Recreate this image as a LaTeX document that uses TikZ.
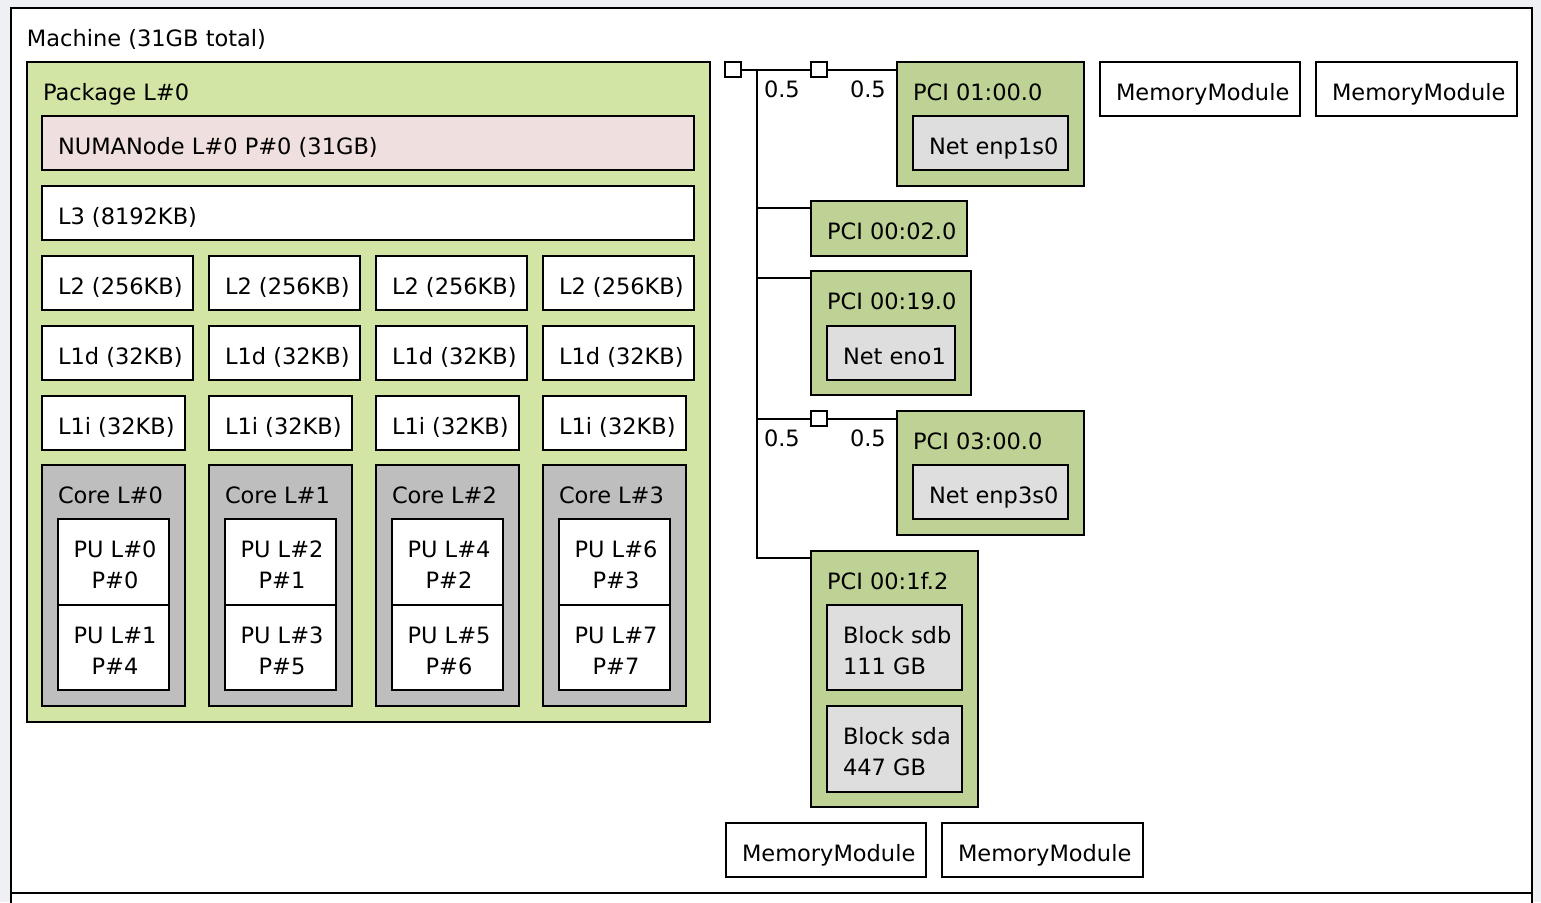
\documentclass[tikz,border=0pt]{standalone}
\usepackage{fontspec}
\setmainfont{DejaVu Sans}
\definecolor{bgc}{RGB}{239,240,244}
\definecolor{pkgc}{RGB}{210,229,164}
\definecolor{numac}{RGB}{239,223,222}
\definecolor{corec}{RGB}{190,190,190}
\definecolor{pcic}{RGB}{190,210,149}
\definecolor{osdc}{RGB}{222,222,222}
\tikzset{
  boxst/.style={draw=black, line width=2pt, inner sep=0pt, outer sep=0pt, anchor=north west},
  lab/.style={inner sep=0pt, outer sep=0pt, font=\fontsize{22.5}{27}\selectfont},
  wire/.style={draw=black, line width=2pt}
}
\newcommand\mybox[6]{\node[boxst, fill=#6, minimum width=#4pt, minimum height=#5pt] (#1) at (#2,#3) {};}
\newcommand\mylab[2]{\node[lab, anchor=base west] (#1-t) at ([xshift=16pt,yshift=-38pt]#1.north west) {#2};}
\newcommand\mylabb[2]{\node[lab, anchor=base west] (#1-u) at ([xshift=16pt,yshift=-69pt]#1.north west) {#2};}
\newcommand\pulab[3]{%
  \node[lab, anchor=base] (#1-t) at ([xshift=1.5pt,yshift=-38pt]#1.north) {#2};
  \node[lab, anchor=base] (#1-u) at ([xshift=1.5pt,yshift=-69pt]#1.north) {#3};}
\begin{document}
\begin{tikzpicture}[x=1pt,y=-1pt]
\clip (0,0) rectangle (1541,902);
\fill[bgc] (0,0) rectangle (1541,902);
% machine
\mybox{machine}{11}{8}{1521}{910}{white}
\mylab{machine}{Machine (31GB total)}
\coordinate (sepL) at (11,893);
\coordinate (sepR) at (1532,893);
\draw[wire] (sepL) -- (sepR);
% package
\mybox{pkg}{27}{62}{683}{660}{pkgc}
\mylab{pkg}{Package L\#0}
\mybox{numa}{42}{116}{652}{54}{numac}
\mylab{numa}{NUMANode L\#0 P\#0 (31GB)}
\mybox{l3}{42}{186}{652}{54}{white}
\mylab{l3}{L3 (8192KB)}
\foreach \i/\xx in {0/42,1/209,2/376,3/543}{
  \mybox{l2\i}{\xx}{256}{151}{54}{white}
  \mylab{l2\i}{L2 (256KB)}
  \mybox{l1d\i}{\xx}{326}{151}{54}{white}
  \mylab{l1d\i}{L1d (32KB)}
  \mybox{l1i\i}{\xx}{396}{143}{54}{white}
  \mylab{l1i\i}{L1i (32KB)}
  \mybox{core\i}{\xx}{465}{143}{241}{corec}
  \mylab{core\i}{Core L\#\i}
}
\foreach \i/\xx/\la/\pa/\lb/\pb in {0/58/0/0/1/4,1/225/2/1/3/5,2/392/4/2/5/6,3/559/6/3/7/7}{
  \mybox{pua\i}{\xx}{519}{111}{86}{white}
  \pulab{pua\i}{PU L\#\la}{P\#\pa}
  \mybox{pub\i}{\xx}{605}{111}{85}{white}
  \pulab{pub\i}{PU L\#\lb}{P\#\pb}
}
% I/O tree
\mybox{hb}{725}{62}{16}{15}{white}
\mybox{sq2}{811}{62}{16}{15}{white}
\mybox{pci1}{897}{62}{187}{124}{pcic}
\mylab{pci1}{PCI 01:00.0}
\mybox{net1}{913}{116}{155}{54}{osdc}
\mylab{net1}{Net enp1s0}
\mybox{pci2}{811}{201}{156}{55}{pcic}
\mylab{pci2}{PCI 00:02.0}
\mybox{pci3}{811}{271}{160}{124}{pcic}
\mylab{pci3}{PCI 00:19.0}
\mybox{net2}{827}{326}{128}{54}{osdc}
\mylab{net2}{Net eno1}
\mybox{sq3}{811}{411}{16}{15}{white}
\mybox{pci4}{897}{411}{187}{124}{pcic}
\mylab{pci4}{PCI 03:00.0}
\mybox{net3}{913}{465}{155}{54}{osdc}
\mylab{net3}{Net enp3s0}
\mybox{pci5}{811}{551}{167}{256}{pcic}
\mylab{pci5}{PCI 00:1f.2}
\mybox{blk1}{827}{605}{135}{85}{osdc}
\mylab{blk1}{Block sdb}
\mylabb{blk1}{111 GB}
\mybox{blk2}{827}{706}{135}{86}{osdc}
\mylab{blk2}{Block sda}
\mylabb{blk2}{447 GB}
% connectors
\coordinate (trunkT) at (757,69.5);
\coordinate (trunkB) at ([yshift=-7pt]pci5.north west);
\draw[wire] (hb.east) -- (sq2.west);
\draw[wire] (sq2.east) -- (sq2.east -| pci1.west);
\draw[wire] (trunkT) -- (trunkT |- trunkB) -- (trunkB);
\coordinate (br2) at ([yshift=-7pt]pci2.north west);
\draw[wire] (trunkT |- br2) -- (br2);
\coordinate (br3) at ([yshift=-7pt]pci3.north west);
\draw[wire] (trunkT |- br3) -- (br3);
\draw[wire] (trunkT |- sq3.west) -- (sq3.west);
\draw[wire] (sq3.east) -- (sq3.east -| pci4.west);
% link speed labels
\node[lab, anchor=base west] (sp1) at (764,97) {0.5};
\node[lab, anchor=base west] (sp2) at (850,97) {0.5};
\node[lab, anchor=base west] (sp3) at (764,446) {0.5};
\node[lab, anchor=base west] (sp4) at (850,446) {0.5};
% memory modules
\mybox{mem1}{1100}{62}{200}{54}{white}
\mylab{mem1}{MemoryModule}
\mybox{mem2}{1316}{62}{201}{54}{white}
\mylab{mem2}{MemoryModule}
\mybox{mem3}{726}{823}{200}{54}{white}
\mylab{mem3}{MemoryModule}
\mybox{mem4}{942}{823}{201}{54}{white}
\mylab{mem4}{MemoryModule}
\end{tikzpicture}
\end{document}
